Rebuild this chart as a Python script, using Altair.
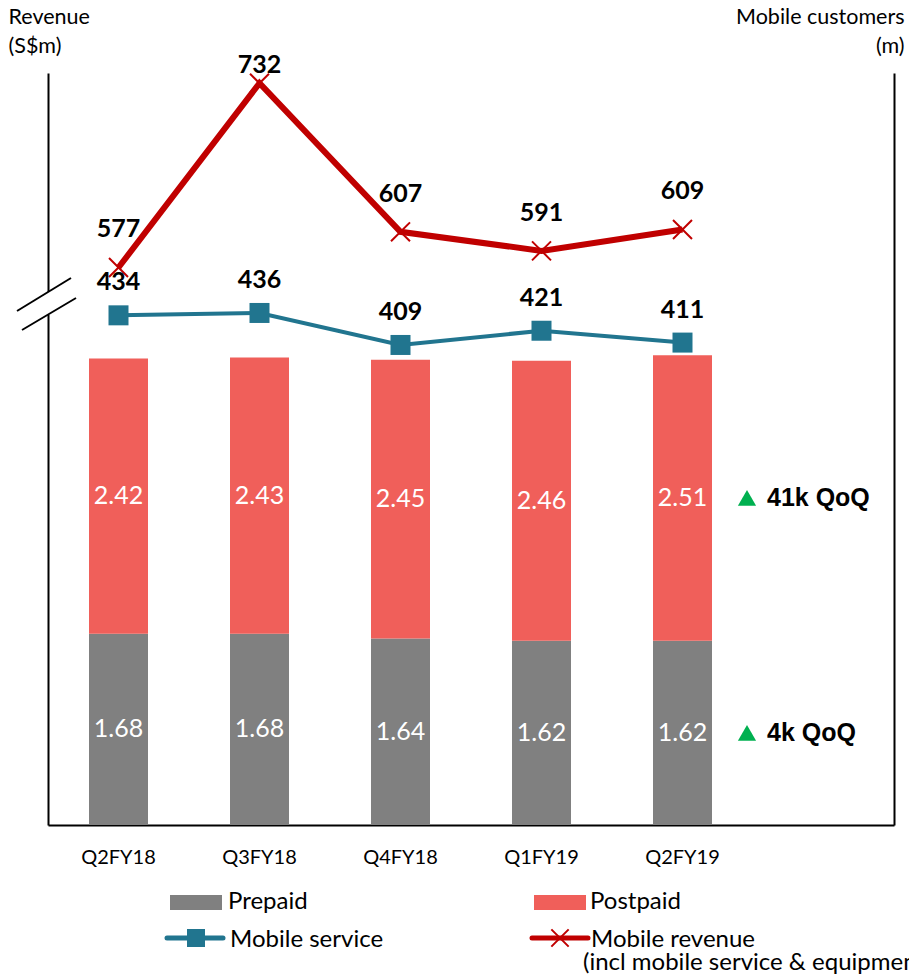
import altair as alt
import pandas as pd

# ---- data -------------------------------------------------------------
quarters = ["Q2FY18", "Q3FY18", "Q4FY18", "Q1FY19", "Q2FY19"]
prepaid = [1.68, 1.68, 1.64, 1.62, 1.62]          # mobile customers (m)
postpaid = [2.42, 2.43, 2.45, 2.46, 2.51]         # mobile customers (m)
mobile_service = [434, 436, 409, 421, 411]        # S$m
mobile_revenue = [577, 732, 607, 591, 609]        # S$m
qoq_postpaid = "41k QoQ"
qoq_prepaid = "4k QoQ"

# ---- styling ----------------------------------------------------------
GREY = "#808080"
SALMON = "#F05F5A"
TEAL = "#21758F"
RED = "#C00000"
GREEN = "#00B050"
W, H = 846, 752

SPACER = " "  # empty slot on the right for the QoQ notes
x_domain = quarters + [SPACER]

bars_df = pd.DataFrame({
    "quarter": quarters * 2,
    "segment": ["Prepaid"] * len(quarters) + ["Postpaid"] * len(quarters),
    "order": [0] * len(quarters) + [1] * len(quarters),
    "customers": prepaid + postpaid,
})
lines_df = pd.DataFrame({
    "quarter": quarters,
    "service": mobile_service,
    "revenue": mobile_revenue,
})
notes_df = pd.DataFrame({
    "change": [qoq_postpaid, qoq_prepaid],
    "mid": [prepaid[-1] + postpaid[-1] / 2, prepaid[-1] / 2],
})
one = pd.DataFrame({"k": [0]})

x_axis = alt.Axis(title=None, labelFont="Lato", labelFontSize=20, labelColor="black",
                  labelPadding=22, labelAngle=0, ticks=False, grid=False,
                  domainColor="black", domainWidth=2)
x_enc = alt.X("quarter:N",
              scale=alt.Scale(domain=x_domain, paddingInner=0, paddingOuter=0),
              axis=x_axis)

cust_scale = alt.Scale(domain=[0, 6.61], nice=False, zero=False)
svc_scale = alt.Scale(domain=[3.9, 638.5], nice=False, zero=False)
rev_scale = alt.Scale(domain=[108.1, 740.6], nice=False, zero=False)

# ---- stacked customer bars (right axis) --------------------------------
bars = alt.Chart(bars_df).mark_bar(size=59).encode(
    x=x_enc,
    y=alt.Y("customers:Q", stack="zero", scale=cust_scale,
            axis=alt.Axis(orient="right", title=["Mobile customers", "(m)"],
                          labels=False, ticks=False, grid=False,
                          domainColor="black", domainWidth=2, zindex=0,
                          titleAngle=0, titleAlign="right", titleBaseline="alphabetic",
                          titleX=10, titleY=-50, titleFont="Lato", titleFontSize=21.5,
                          titleFontWeight="normal", titleColor="black",
                          titleLineHeight=29)),
    color=alt.Color("segment:N",
                    scale=alt.Scale(domain=["Prepaid", "Postpaid"], range=[GREY, SALMON]),
                    legend=None),
    order=alt.Order("order:Q", sort="ascending"),
)

bar_labels = alt.Chart(bars_df).transform_stack(
    stack="customers", groupby=["quarter"], as_=["c0", "c1"],
    sort=[alt.SortField("order", order="ascending")],
).transform_calculate(
    mid="(datum.c0 + datum.c1) / 2",
    label="format(datum.customers, '.2f')",
).mark_text(font="Lato", fontSize=25, color="white").encode(
    x=x_enc,
    y=alt.Y("mid:Q", scale=cust_scale, axis=None),
    text="label:N",
)

# ---- mobile revenue line (left axis, broken) ----------------------------
rev_line = alt.Chart(lines_df).mark_line(color=RED, strokeWidth=6).encode(
    x=x_enc,
    y=alt.Y("revenue:Q", scale=rev_scale,
            axis=alt.Axis(orient="left", title=["Revenue", "(S$m)"],
                          labels=False, ticks=False, grid=False,
                          domainColor="black", domainWidth=2, zindex=0,
                          titleAngle=0, titleAlign="left", titleBaseline="alphabetic",
                          titleX=-40, titleY=-50, titleFont="Lato", titleFontSize=21.5,
                          titleFontWeight="normal", titleColor="black",
                          titleLineHeight=29)),
)
rev_pts = alt.Chart(lines_df).mark_point(
    shape="M-1,-1L1,1M-1,1L1,-1", filled=False, size=360, strokeWidth=2,
    color=RED, opacity=1,
).encode(x=x_enc, y=alt.Y("revenue:Q", scale=rev_scale, axis=None))
rev_labels = alt.Chart(lines_df).transform_calculate(
    label_y="min(datum.revenue + 32, 747)"
).mark_text(font="Lato", fontWeight="bold", fontSize=25, color="black").encode(
    x=x_enc,
    y=alt.Y("label_y:Q", scale=rev_scale, axis=None),
    text="revenue:Q",
)

# ---- mobile service line ------------------------------------------------
svc_line = alt.Chart(lines_df).mark_line(color=TEAL, strokeWidth=4).encode(
    x=x_enc, y=alt.Y("service:Q", scale=svc_scale, axis=None))
svc_pts = alt.Chart(lines_df).mark_point(
    shape="square", filled=True, size=400, color=TEAL, opacity=1,
).encode(x=x_enc, y=alt.Y("service:Q", scale=svc_scale, axis=None))
svc_labels = alt.Chart(lines_df).mark_text(
    font="Lato", fontWeight="bold", fontSize=25, color="black", dy=-33,
).encode(x=x_enc, y=alt.Y("service:Q", scale=svc_scale, axis=None), text="service:Q")

# ---- QoQ notes beside the last bar --------------------------------------
note_tri = alt.Chart(notes_df).mark_point(
    shape="triangle-up", filled=True, size=330, color=GREEN, opacity=1,
).encode(x=alt.value(699), y=alt.Y("mid:Q", scale=cust_scale, axis=None))
note_txt = alt.Chart(notes_df).mark_text(
    align="left", font="Liberation Sans, Arial, sans-serif", fontWeight="bold",
    fontSize=25, color="black",
).encode(x=alt.value(719), y=alt.Y("mid:Q", scale=cust_scale, axis=None), text="change:N")

# ---- axis break on the revenue axis -------------------------------------
gap = alt.Chart(one).mark_rect(color="white").encode(
    x=alt.value(-4), x2=alt.value(4), y=alt.value(219), y2=alt.value(242))
slash1 = alt.Chart(one).mark_rule(color="black", strokeWidth=2).encode(
    x=alt.value(-31), y=alt.value(238), x2=alt.value(23), y2=alt.value(205))
slash2 = alt.Chart(one).mark_rule(color="black", strokeWidth=2).encode(
    x=alt.value(-26), y=alt.value(257), x2=alt.value(28), y2=alt.value(225))

# ---- legend -------------------------------------------------------------
def swatch(x0, x1, color):
    return alt.Chart(one).mark_rect(color=color).encode(
        x=alt.value(x0), x2=alt.value(x1), y=alt.value(822), y2=alt.value(837))

def legend_text(x, y, text):
    return alt.Chart(one).mark_text(
        text=text, align="left", baseline="middle", font="Lato", fontSize=24, color="black",
    ).encode(x=alt.value(x), y=alt.value(y))

def legend_line(x0, x1, color):
    return alt.Chart(one).mark_rule(color=color, strokeWidth=5, strokeCap="round").encode(
        x=alt.value(x0), x2=alt.value(x1), y=alt.value(865))

leg = [
    swatch(122, 174, GREY),
    legend_text(180, 829, "Prepaid"),
    swatch(486, 538, SALMON),
    legend_text(542, 829, "Postpaid"),
    legend_line(119, 175, TEAL),
    alt.Chart(one).mark_point(shape="square", filled=True, size=324, color=TEAL, opacity=1)
    .encode(x=alt.value(148), y=alt.value(865)),
    legend_text(182, 867, "Mobile service"),
    legend_line(484, 540, RED),
    alt.Chart(one).mark_point(shape="M-1,-1L1,1M-1,1L1,-1", filled=False, size=300,
                              strokeWidth=2, color=RED, opacity=1)
    .encode(x=alt.value(512), y=alt.value(865)),
    legend_text(543, 867, "Mobile revenue"),
    legend_text(535, 890, "(incl mobile service & equipment)"),
]

chart = alt.layer(
    bars, bar_labels,
    rev_line, svc_line, svc_pts, rev_pts,
    rev_labels, svc_labels,
    note_tri, note_txt,
    gap, slash1, slash2,
    *leg,
).resolve_scale(y="independent").properties(
    width=W, height=H,
    padding={"left": 48, "top": 73, "right": 15, "bottom": 151},
    autosize=alt.AutoSizeParams(type="none"),
    background="white",
).configure_view(stroke=None)

chart.save("out.html", embed_options={"renderer": "svg", "actions": False})
